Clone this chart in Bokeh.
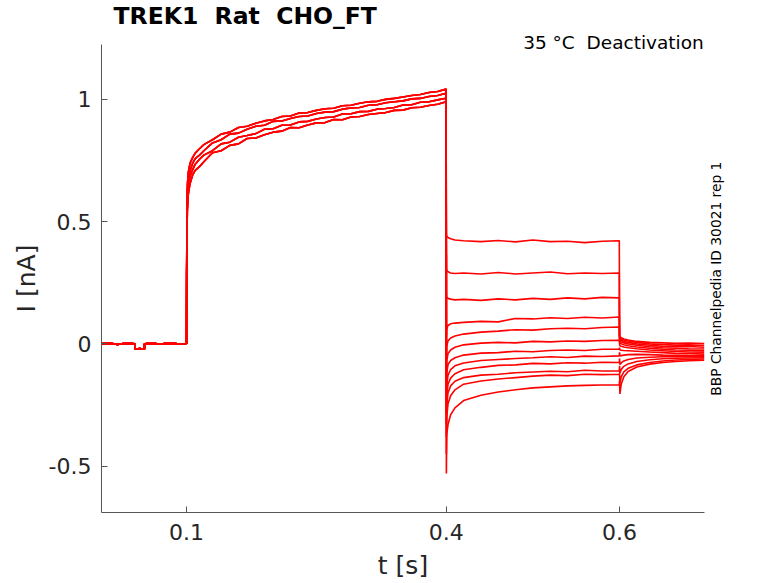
import math
from bokeh.plotting import figure
from bokeh.models import FixedTicker, LinearAxis
from bokeh.embed import file_html
from bokeh.resources import INLINE

# holding segment (shared by all sweeps), with the short leak-test dip
t_base = [0.0, 0.01, 0.02, 0.03, 0.0405, 0.0406, 0.046, 0.0514, 0.0515, 0.06, 0.07, 0.08, 0.09, 0.0999]
i_base = [0.0, 0.003, -0.002, 0.002, 0.0, -0.022, -0.019, -0.022, 0.0, 0.002, -0.001, 0.003, 0.0, 0.001]

# activation step (0.1 - 0.4 s), four read-off envelopes of the overlapping sweeps
t_act = [0.1, 0.1002, 0.1006, 0.101, 0.102, 0.104, 0.107, 0.11, 0.115, 0.12, 0.13, 0.14, 0.15,
         0.16, 0.17, 0.18, 0.19, 0.20, 0.21, 0.22, 0.23, 0.24, 0.25, 0.26, 0.27, 0.28, 0.29,
         0.30, 0.31, 0.32, 0.33, 0.34, 0.35, 0.36, 0.37, 0.38, 0.39, 0.3998]
act_a = [0, 0.27, 0.47, 0.55, 0.61, 0.655, 0.69, 0.71, 0.725,
         0.745, 0.782, 0.79, 0.812, 0.818, 0.84, 0.842, 0.855, 0.866, 0.87, 0.885, 0.884, 0.895,
         0.904, 0.905, 0.918, 0.917, 0.928, 0.93, 0.938, 0.942, 0.946, 0.955, 0.956, 0.966,
         0.968, 0.975, 0.98, 0.99]
act_b = [0, 0.29, 0.5, 0.58, 0.64, 0.685, 0.712, 0.735, 0.755,
         0.772, 0.79, 0.818, 0.825, 0.845, 0.852, 0.86, 0.878, 0.88, 0.894, 0.895, 0.908, 0.91,
         0.92, 0.926, 0.928, 0.94, 0.941, 0.95, 0.951, 0.96, 0.963, 0.967, 0.977, 0.978,
         0.988, 0.99, 0.998, 1.005]
act_c = [0, 0.31, 0.54, 0.62, 0.672, 0.708, 0.738, 0.758, 0.772,
         0.79, 0.822, 0.835, 0.858, 0.862, 0.878, 0.89, 0.894, 0.91, 0.912, 0.922, 0.93, 0.932,
         0.942, 0.948, 0.95, 0.96, 0.965, 0.967, 0.976, 0.978, 0.986, 0.99, 0.994, 1.002,
         1.004, 1.012, 1.016, 1.025]
act_d = [0, 0.33, 0.57, 0.65, 0.7, 0.738, 0.762, 0.78, 0.798,
         0.815, 0.835, 0.858, 0.866, 0.885, 0.89, 0.902, 0.912, 0.918, 0.93, 0.932, 0.944, 0.946,
         0.955, 0.962, 0.964, 0.974, 0.976, 0.984, 0.99, 0.992, 1.0, 1.004, 1.01, 1.016,
         1.02, 1.028, 1.032, 1.042]
act_sets = [act_a, act_b, act_c, act_d]

# deactivation steps (0.4 - 0.6 s), one row per sweep
t_deact = [0.4001, 0.4005, 0.402, 0.405, 0.41, 0.42, 0.44, 0.46, 0.48, 0.50, 0.52, 0.54, 0.56, 0.58, 0.5998]
deact = [
    [0.45, 0.44, 0.435, 0.43, 0.425, 0.422, 0.418, 0.423, 0.417, 0.425, 0.418, 0.42, 0.414, 0.42, 0.422],
    [0.31, 0.30, 0.295, 0.29, 0.288, 0.29, 0.286, 0.292, 0.286, 0.29, 0.294, 0.287, 0.29, 0.288, 0.29],
    [0.20, 0.19, 0.186, 0.183, 0.18, 0.182, 0.178, 0.184, 0.18, 0.186, 0.182, 0.188, 0.184, 0.19, 0.188],
    [0.03, 0.06, 0.075, 0.082, 0.085, 0.088, 0.092, 0.09, 0.104, 0.102, 0.107, 0.104, 0.109, 0.106, 0.11],
    [-0.06, -0.01, 0.012, 0.024, 0.032, 0.04, 0.048, 0.052, 0.058, 0.056, 0.062, 0.064, 0.062, 0.067, 0.069],
    [-0.15, -0.07, -0.04, -0.025, -0.014, -0.004, 0.003, 0.006, 0.004, 0.01, 0.008, 0.012, 0.01, 0.014, 0.015],
    [-0.22, -0.12, -0.085, -0.068, -0.057, -0.046, -0.038, -0.036, -0.03, -0.032, -0.027, -0.025, -0.027, -0.022, -0.022],
    [-0.28, -0.17, -0.128, -0.105, -0.09, -0.078, -0.068, -0.064, -0.06, -0.057, -0.053, -0.056, -0.05, -0.052, -0.049],
    [-0.33, -0.21, -0.165, -0.14, -0.122, -0.106, -0.096, -0.088, -0.086, -0.08, -0.082, -0.077, -0.079, -0.075, -0.076],
    [-0.38, -0.25, -0.2, -0.172, -0.153, -0.138, -0.128, -0.124, -0.118, -0.115, -0.112, -0.114, -0.108, -0.111, -0.11],
    [-0.45, -0.3, -0.245, -0.212, -0.188, -0.165, -0.152, -0.144, -0.138, -0.132, -0.128, -0.13, -0.124, -0.126, -0.124],
    [-0.53, -0.37, -0.33, -0.29, -0.262, -0.232, -0.21, -0.197, -0.188, -0.18, -0.176, -0.172, -0.17, -0.168, -0.167],
]

# tail after 0.6 s
t_tail = [0.6001, 0.6005, 0.602, 0.605, 0.61, 0.62, 0.635, 0.65, 0.665, 0.68, 0.698]
tail = [
    [0.035, 0.03, 0.025, 0.02, 0.016, 0.01, 0.006, 0.004, 0.002, 0.003, 0.001],
    [0.03, 0.024, 0.02, 0.016, 0.012, 0.006, 0.0, -0.003, -0.005, -0.004, -0.007],
    [0.025, 0.02, 0.015, 0.01, 0.006, 0.0, -0.006, -0.01, -0.012, -0.011, -0.014],
    [0.02, 0.014, 0.009, 0.004, 0.0, -0.006, -0.012, -0.016, -0.018, -0.02, -0.021],
    [0.012, 0.006, 0.0, -0.004, -0.008, -0.013, -0.018, -0.022, -0.025, -0.026, -0.028],
    [0.0, -0.008, -0.01, -0.013, -0.016, -0.02, -0.025, -0.028, -0.031, -0.033, -0.034],
    [-0.015, -0.025, -0.026, -0.027, -0.028, -0.03, -0.033, -0.036, -0.039, -0.04, -0.042],
    [-0.035, -0.05, -0.048, -0.046, -0.044, -0.043, -0.044, -0.046, -0.047, -0.048, -0.049],
    [-0.06, -0.085, -0.078, -0.07, -0.064, -0.058, -0.055, -0.053, -0.052, -0.053, -0.052],
    [-0.09, -0.12, -0.105, -0.092, -0.082, -0.072, -0.065, -0.061, -0.059, -0.058, -0.057],
    [-0.12, -0.16, -0.135, -0.115, -0.1, -0.086, -0.076, -0.07, -0.066, -0.064, -0.062],
    [-0.15, -0.205, -0.165, -0.135, -0.113, -0.095, -0.083, -0.076, -0.072, -0.069, -0.067],
]

x_ticks = [0.1, 0.4, 0.6]
y_ticks = [-0.5, 0, 0.5, 1]
y_tick_labels = {-0.5: "-0.5", 0: "0", 0.5: "0.5", 1: "1"}

# svg collapses repeated spaces, so the double gaps use a no-break space
title = "TREK1\u00a0 Rat\u00a0 CHO_FT"
subtitle = "35 °C\u00a0 Deactivation"
side_note = "BBP Channelpedia ID 30021 rep 1"

FONT = "DejaVu Sans"
AX = "#262626"

p = figure(width=778, height=583, x_range=(0.0018, 0.6982), y_range=(-0.6898, 1.2245),
           output_backend="svg", toolbar_location=None,
           min_border_left=101, min_border_right=74, min_border_top=43, min_border_bottom=71)
p.outline_line_color = None
p.grid.visible = False

xs, ys = [], []
for k in range(len(deact)):
    xs.append(t_base + t_act + t_deact + t_tail)
    ys.append(i_base + act_sets[k % 4] + deact[k] + tail[k])
p.multi_line(xs, ys, line_color="#ff0000", line_width=1.6)

for ax in (p.xaxis[0], p.yaxis[0]):
    ax.axis_line_color = "#555555"
    ax.major_tick_line_color = "#555555"
    ax.major_tick_in = 6
    ax.major_tick_out = 0
    ax.minor_tick_line_color = None
    ax.major_label_text_font = FONT
    ax.major_label_text_font_size = "22px"
    ax.major_label_text_color = AX
    ax.axis_label_text_font = FONT
    ax.axis_label_text_font_style = "normal"
    ax.axis_label_text_font_size = "25px"
    ax.axis_label_text_color = AX

p.xaxis.ticker = FixedTicker(ticks=x_ticks)
p.yaxis.ticker = FixedTicker(ticks=y_ticks)
p.yaxis.major_label_overrides = y_tick_labels
p.xaxis.axis_label = "t [s]"
p.yaxis.axis_label = "I [nA]"
p.xaxis.major_label_standoff = 11
p.yaxis.major_label_standoff = 10
p.xaxis.axis_label_standoff = 8
p.yaxis.axis_label_standoff = 5

# protocol / temperature note, drawn as the single label of a bare top axis
top = LinearAxis(ticker=FixedTicker(ticks=[0.5931]), major_label_overrides={0.5931: subtitle},
                 axis_line_color=None, major_tick_line_color=None, minor_tick_line_color=None,
                 major_tick_in=0, major_tick_out=0, major_label_standoff=-8,
                 major_label_text_font=FONT, major_label_text_font_size="18.5px",
                 major_label_text_color="black")
p.add_layout(top, "above")

# vertical id note on the right (label starts at its tick and runs upward)
side = LinearAxis(ticker=FixedTicker(ticks=[-0.212]), major_label_overrides={-0.212: side_note},
                  axis_line_color=None, major_tick_line_color=None, minor_tick_line_color=None,
                  major_tick_in=0, major_tick_out=0, major_label_standoff=12,
                  major_label_orientation=math.pi / 2,
                  major_label_text_font=FONT, major_label_text_font_size="13.8px",
                  major_label_text_color="black")
p.add_layout(side, "right")

p.title.text = title
p.title.align = "left"
p.title.offset = 12
p.title.standoff = -2
p.title.text_font = FONT
p.title.text_font_style = "bold"
p.title.text_font_size = "23.5px"
p.title.text_color = "black"

open("out.html", "w").write(file_html(p, INLINE))
